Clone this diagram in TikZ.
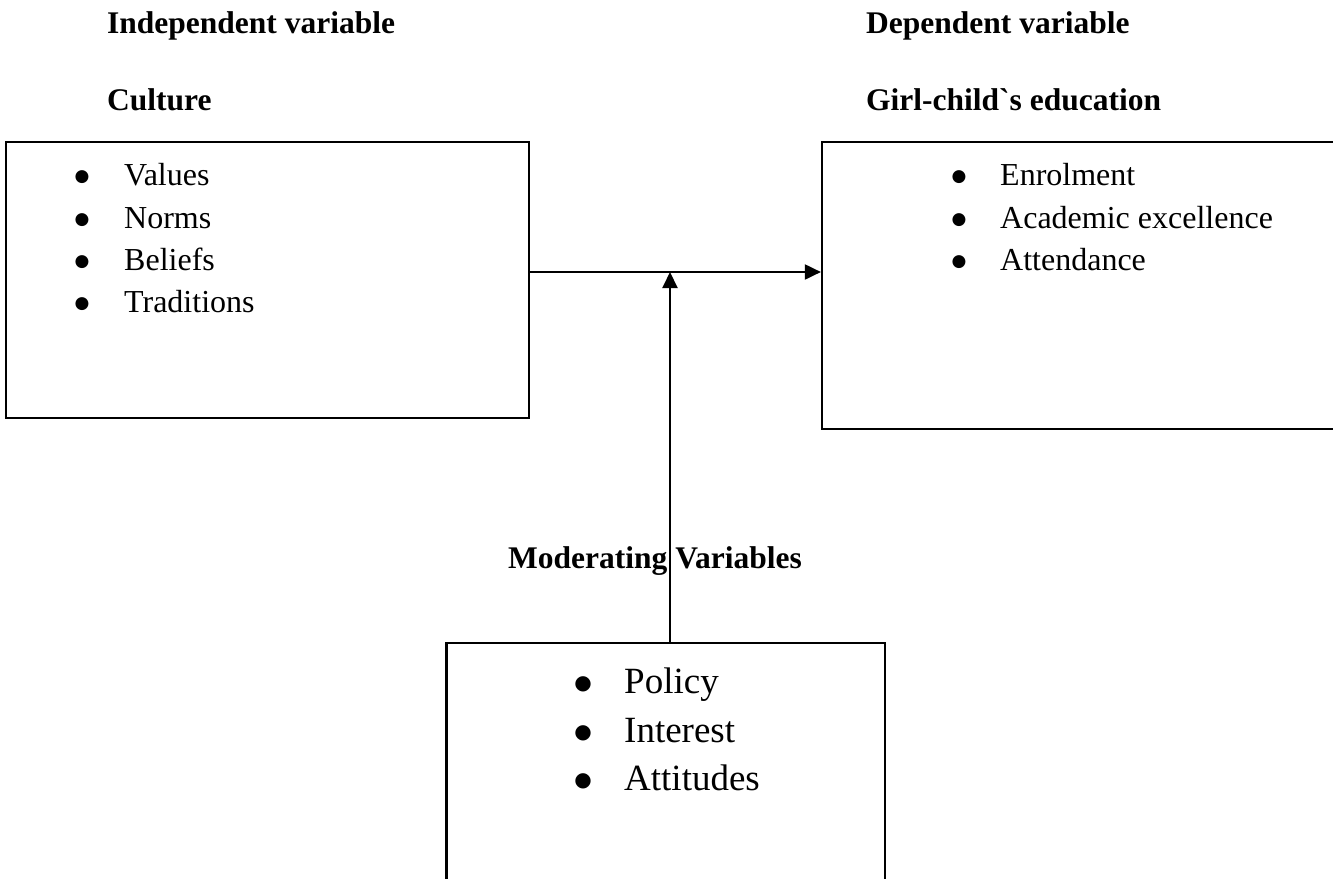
\documentclass[tikz,border=0pt]{standalone}
\usepackage{fontspec}
\setmainfont{Liberation Serif}
\newfontfamily\dejavu{DejaVu Sans}
\usetikzlibrary{arrows.meta}
\begin{document}
\begin{tikzpicture}[x=1pt,y=-1pt,
  box/.style={draw,line width=2.2pt,rectangle,inner sep=0pt},
  head/.style={anchor=base west,inner sep=0pt,font=\fontsize{31.5}{38}\selectfont\bfseries},
  item/.style={anchor=base west,inner sep=0pt,font=\fontsize{32}{38}\selectfont},
  bul/.style={anchor=center,inner sep=0pt,font=\dejavu\fontsize{17}{18}\selectfont},
  itemL/.style={anchor=base west,inner sep=0pt,font=\fontsize{37}{44}\selectfont},
  bulL/.style={anchor=center,inner sep=0pt,font=\dejavu\fontsize{20}{21}\selectfont},
  arr/.style={line width=2pt,-{Triangle[length=16pt,width=15pt]}}]
\useasboundingbox (0,0) rectangle (1333,878);
% headings
\node[head] (h1) at (107,33) {Independent variable};
\node[head] (h2) at (107,110) {Culture};
\node[head] (h3) at (866,33) {Dependent variable};
\node[head] (h4) at (866,110) {Girl-child\textasciigrave s education};
\node[head] (h5) at (508,568) {Moderating Variables};
% boxes
\node[box,minimum width=523pt,minimum height=276pt] (left) at (267.5,280) {};
\node[box,minimum width=528pt,minimum height=287pt] (right) at (1086,285.5) {};
\node[box,minimum width=438.5pt,minimum height=252pt] (bottom) at (665.75,769) {};
% left items
\node[bul] (lb1) at (82,177) {●};
\node[item] (l1) at (124,185) {Values};
\node[bul] (lb2) at (82,220) {●};
\node[item] (l2) at (124,228) {Norms};
\node[bul] (lb3) at (82,262) {●};
\node[item] (l3) at (124,270) {Beliefs};
\node[bul] (lb4) at (82,304) {●};
\node[item] (l4) at (124,312) {Traditions};
% right items
\node[bul] (rb1) at (959,177) {●};
\node[item] (r1) at (1000,185) {Enrolment};
\node[bul] (rb2) at (959,220) {●};
\node[item] (r2) at (1000,228) {Academic excellence};
\node[bul] (rb3) at (959,262) {●};
\node[item] (r3) at (1000,270) {Attendance};
% bottom items
\node[bulL] (bb1) at (583,684) {●};
\node[itemL] (b1) at (624,693) {Policy};
\node[bulL] (bb2) at (583,733) {●};
\node[itemL] (b2) at (624,742) {Interest};
\node[bulL] (bb3) at (583,781) {●};
\node[itemL] (b3) at (624,790) {Attitudes};
% connectors
\coordinate (j) at (670,272);
\draw[arr] (left.east |- j) -- (right.west |- j);
\draw[arr] (j |- bottom.north) -- (j);
\end{tikzpicture}
\end{document}
